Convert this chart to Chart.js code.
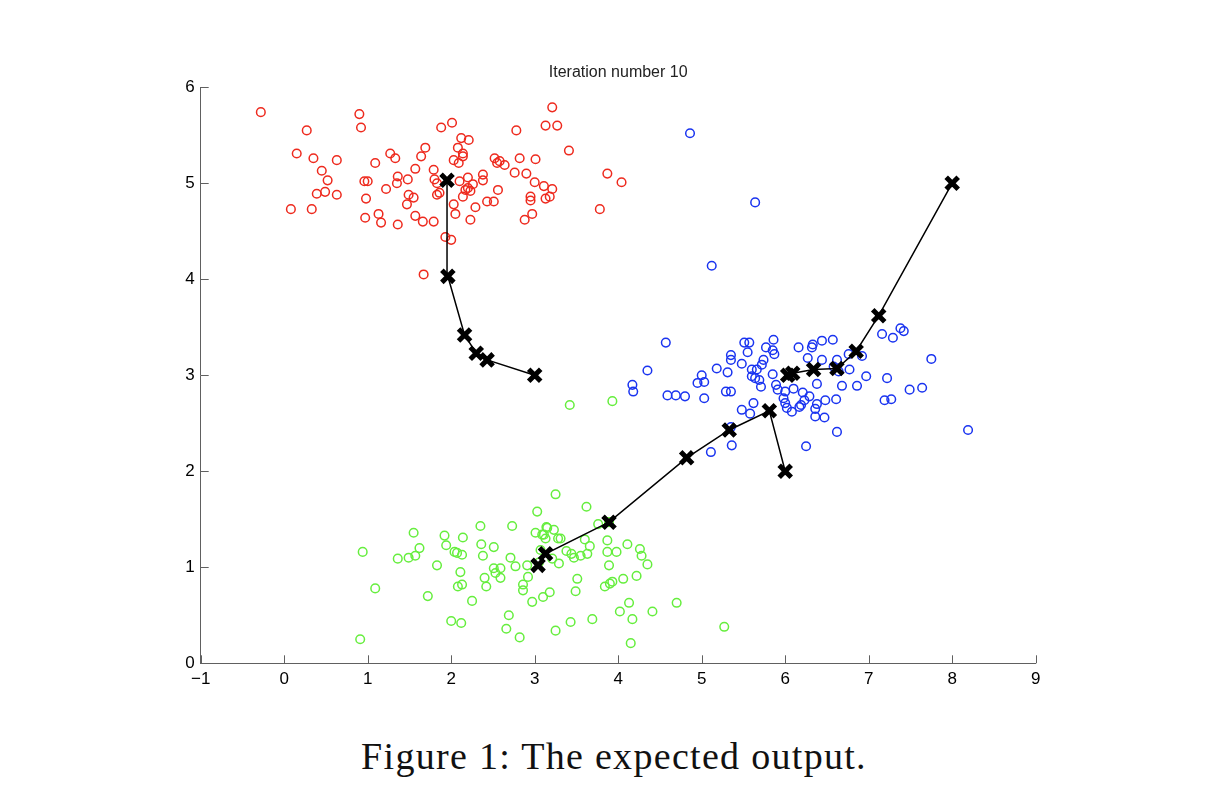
<!DOCTYPE html>
<html lang="en">
<head>
    <meta charset="UTF-8">
    <title>Iteration number 10</title>
    <script src="https://cdn.jsdelivr.net/npm/chart.js"></script>
    <style>
        body {
            margin: 0;
            background: #fff;
        }
        #wrap {
            position: relative;
            width: 1228px;
            height: 804px;
        }
        #chart {
            position: absolute;
            left: 0;
            top: 0;
        }
        .caption {
            position: absolute;
            left: 0;
            top: 737px;
            width: 1228px;
            text-align: center;
            font-family: "Liberation Serif", serif;
            font-size: 38px;
            letter-spacing: 1.3px;
            line-height: 1;
            color: #111;
        }
    </style>
</head>
<body>
<div id="wrap">
    <canvas id="chart" width="1228" height="720"></canvas>
    <div class="caption">Figure 1: The expected output.</div>
</div>

<script>
    // tick labels
    const xTicks = [-1, 0, 1, 2, 3, 4, 5, 6, 7, 8, 9];
    const yTicks = [0, 1, 2, 3, 4, 5, 6];

    // cluster 1 (red)
    const redPoints = [
        [-0.28, 5.74], [0.27, 5.55], [0.90, 5.72], [0.92, 5.58], [0.15, 5.31], [0.35, 5.26],
        [0.63, 5.24], [0.45, 5.13], [0.52, 5.03], [0.39, 4.89], [0.49, 4.91], [0.63, 4.88],
        [0.08, 4.73], [0.33, 4.73], [1.09, 5.21], [1.27, 5.31], [1.33, 5.26], [1.57, 5.15],
        [1.64, 5.28], [1.69, 5.37], [0.96, 5.02], [1.00, 5.02], [1.22, 4.94], [1.36, 5.07],
        [1.35, 5.00], [1.48, 5.04], [0.98, 4.84], [1.49, 4.88], [1.55, 4.85], [1.47, 4.78],
        [0.97, 4.64], [1.13, 4.68], [1.16, 4.59], [1.36, 4.57], [1.57, 4.66], [1.66, 4.60],
        [1.67, 4.05], [3.21, 5.79], [3.13, 5.60], [3.27, 5.60], [2.78, 5.55], [3.41, 5.34],
        [1.88, 5.58], [2.01, 5.63], [2.12, 5.47], [2.21, 5.45], [2.08, 5.37], [2.14, 5.31],
        [2.14, 5.28], [2.03, 5.24], [2.09, 5.21], [1.79, 5.14], [2.52, 5.26], [2.58, 5.23],
        [2.55, 5.21], [2.64, 5.19], [2.82, 5.26], [3.01, 5.25], [2.76, 5.11], [2.90, 5.10],
        [2.38, 5.09], [2.38, 5.03], [2.20, 5.06], [2.10, 5.02], [1.80, 5.04], [1.83, 5.00],
        [2.26, 4.99], [2.20, 4.95], [2.17, 4.93], [2.23, 4.92], [2.56, 4.93], [3.00, 5.01],
        [3.11, 4.97], [3.21, 4.94], [2.14, 4.86], [1.83, 4.88], [1.86, 4.90], [2.03, 4.78],
        [2.05, 4.68], [2.29, 4.75], [2.43, 4.81], [2.51, 4.81], [2.23, 4.62], [2.95, 4.86],
        [2.95, 4.82], [3.13, 4.84], [3.18, 4.86], [2.97, 4.68], [2.88, 4.62], [1.79, 4.60],
        [1.93, 4.44], [2.00, 4.41], [3.87, 5.10], [4.04, 5.01], [3.78, 4.73]
    ];

    // cluster 2 (blue)
    const bluePoints = [
        [4.57, 3.34], [4.35, 3.05], [4.17, 2.90], [4.18, 2.83], [4.59, 2.79], [4.69, 2.79],
        [4.80, 2.78], [5.03, 2.76], [4.95, 2.92], [5.03, 2.93], [5.00, 3.00], [5.18, 3.07],
        [5.31, 3.03], [5.29, 2.83], [5.35, 2.83], [5.35, 3.21], [5.35, 3.16], [5.48, 3.12],
        [5.51, 3.34], [5.57, 3.34], [5.55, 3.24], [5.77, 3.29], [5.86, 3.37], [5.85, 3.26],
        [5.87, 3.22], [6.16, 3.29], [5.74, 3.16], [5.72, 3.11], [5.66, 3.06], [5.60, 3.06],
        [5.60, 2.99], [5.64, 2.97], [5.69, 2.95], [5.71, 2.88], [5.85, 3.01], [5.89, 2.90],
        [5.91, 2.85], [6.00, 2.83], [6.10, 2.86], [6.21, 2.82], [5.98, 2.76], [6.00, 2.71],
        [6.02, 2.66], [6.08, 2.62], [6.19, 2.69], [6.23, 2.74], [5.62, 2.71], [5.48, 2.64],
        [5.58, 2.60], [5.35, 2.46], [5.36, 2.27], [5.11, 2.20], [6.25, 2.26], [7.16, 3.43],
        [7.29, 3.39], [7.38, 3.49], [7.42, 3.46], [7.75, 3.17], [7.22, 2.97], [7.49, 2.85],
        [7.64, 2.87], [7.19, 2.74], [7.27, 2.75], [8.19, 2.43], [6.97, 2.99], [6.86, 2.89],
        [6.68, 2.89], [6.77, 3.06], [6.92, 3.20], [6.76, 3.22], [6.62, 3.16], [6.57, 3.37],
        [6.44, 3.36], [6.33, 3.32], [6.32, 3.29], [6.27, 3.18], [6.44, 3.16], [6.58, 3.09],
        [6.64, 3.04], [6.38, 2.91], [6.29, 2.78], [6.48, 2.74], [6.61, 2.75], [6.38, 2.70],
        [6.36, 2.65], [6.17, 2.67], [6.36, 2.57], [6.47, 2.56], [6.62, 2.41], [4.86, 5.52],
        [5.64, 4.80], [5.12, 4.14]
    ];

    // cluster 3 (green)
    const greenPoints = [
        [0.94, 1.16], [1.09, 0.78], [0.91, 0.25], [1.55, 1.36], [1.62, 1.20], [1.57, 1.12],
        [1.49, 1.10], [1.36, 1.09], [1.72, 0.70], [1.83, 1.02], [1.92, 1.33], [1.94, 1.23],
        [2.14, 1.31], [2.04, 1.16], [2.07, 1.15], [2.13, 1.13], [2.11, 0.95], [2.08, 0.80],
        [2.13, 0.82], [2.25, 0.65], [2.00, 0.44], [2.12, 0.42], [2.35, 1.43], [2.36, 1.24],
        [2.51, 1.21], [2.38, 1.12], [2.51, 0.99], [2.59, 0.99], [2.53, 0.94], [2.59, 0.89],
        [2.40, 0.89], [2.42, 0.80], [2.73, 1.43], [2.71, 1.10], [2.77, 1.01], [3.03, 1.58],
        [3.01, 1.36], [3.14, 1.42], [3.09, 1.34], [2.91, 1.02], [2.92, 0.90], [2.86, 0.82],
        [2.86, 0.76], [2.97, 0.64], [3.10, 0.69], [2.69, 0.50], [2.66, 0.36], [2.82, 0.27],
        [3.07, 1.18], [3.25, 1.76], [3.62, 1.63], [3.76, 1.45], [3.15, 1.41], [3.23, 1.39],
        [3.11, 1.34], [3.13, 1.30], [3.28, 1.30], [3.31, 1.30], [3.60, 1.29], [3.66, 1.22],
        [3.38, 1.17], [3.44, 1.14], [3.47, 1.10], [3.55, 1.12], [3.63, 1.14], [3.21, 1.09],
        [3.29, 1.04], [3.87, 1.28], [3.87, 1.16], [3.98, 1.16], [4.11, 1.24], [4.26, 1.19],
        [4.28, 1.12], [4.35, 1.03], [3.89, 1.02], [4.22, 0.91], [4.06, 0.88], [3.93, 0.85],
        [3.90, 0.83], [3.84, 0.80], [3.51, 0.88], [3.49, 0.75], [3.18, 0.74], [4.13, 0.63],
        [4.02, 0.54], [4.17, 0.46], [4.70, 0.63], [4.41, 0.54], [3.69, 0.46], [3.43, 0.43],
        [3.25, 0.34], [4.15, 0.21], [5.27, 0.38], [3.42, 2.69], [3.93, 2.73], [3.89, 1.47],
        [3.05, 1.05]
    ];

    // centroid history, iteration 0 .. converged
    const centroid1X = [3.00, 2.43, 2.30, 2.16, 1.96, 1.95];
    const centroid1Y = [3.00, 3.16, 3.23, 3.42, 4.03, 5.03];
    const centroid2X = [8.00, 7.12, 6.85, 6.62, 6.34, 6.09, 6.03];
    const centroid2Y = [5.00, 3.62, 3.25, 3.07, 3.06, 3.02, 3.00];
    const centroid3X = [6.00, 5.81, 5.33, 4.82, 3.89, 3.13, 3.04];
    const centroid3Y = [2.00, 2.63, 2.43, 2.14, 1.47, 1.14, 1.02];

    const axisColor = '#606060';
    const tickFont = { family: 'Liberation Sans', size: 17 };

    const toXY = pts => pts.map(p => ({ x: p[0], y: p[1] }));
    const zipXY = (xs, ys) => xs.map((x, i) => ({ x: x, y: ys[i] }));

    function clusterSet(pts, color) {
        return {
            type: 'scatter',
            data: toXY(pts),
            pointStyle: 'circle',
            pointRadius: 4.3,
            pointBorderWidth: 1.5,
            pointBackgroundColor: 'rgba(0,0,0,0)',
            pointBorderColor: color,
            order: 2
        };
    }

    function centroidSet(xs, ys) {
        return {
            type: 'line',
            data: zipXY(xs, ys),
            borderColor: '#000',
            borderWidth: 1.5,
            tension: 0,
            fill: false,
            pointStyle: 'crossRot',
            pointRadius: 8.5,
            pointBorderWidth: 5,
            pointBorderColor: '#000',
            pointBackgroundColor: '#000',
            order: 0
        };
    }

    // MATLAB style: tick marks pointing into the plot
    const inwardTicks = {
        id: 'inwardTicks',
        beforeDatasetsDraw(chart) {
            const { ctx, chartArea, scales } = chart;
            ctx.save();
            ctx.strokeStyle = axisColor;
            ctx.lineWidth = 1;
            ctx.beginPath();
            scales.x.ticks.forEach(t => {
                const px = Math.round(scales.x.getPixelForValue(t.value)) + 0.5;
                ctx.moveTo(px, chartArea.bottom);
                ctx.lineTo(px, chartArea.bottom - 8);
            });
            scales.y.ticks.forEach(t => {
                const py = Math.round(scales.y.getPixelForValue(t.value)) + 0.5;
                ctx.moveTo(chartArea.left, py);
                ctx.lineTo(chartArea.left + 8, py);
            });
            ctx.stroke();
            ctx.restore();
        }
    };

    const ctx = document.getElementById('chart').getContext('2d');
    new Chart(ctx, {
        data: {
            datasets: [
                centroidSet(centroid1X, centroid1Y),
                centroidSet(centroid2X, centroid2Y),
                centroidSet(centroid3X, centroid3Y),
                clusterSet(redPoints, '#ee2a1e'),
                clusterSet(bluePoints, '#1a34f0'),
                clusterSet(greenPoints, '#66ee3e')
            ]
        },
        options: {
            responsive: false,
            animation: false,
            devicePixelRatio: 1,
            layout: {
                padding: { left: 0, right: 192.3, top: 0, bottom: 0 }
            },
            plugins: {
                legend: { display: false },
                tooltip: { enabled: false },
                title: {
                    display: true,
                    fullSize: false,
                    text: 'Iteration number 10',
                    color: '#222',
                    font: { family: 'Liberation Sans', size: 16, weight: 'normal' },
                    padding: { top: 63, bottom: 5 }
                }
            },
            scales: {
                x: {
                    type: 'linear',
                    min: -1,
                    max: 9,
                    afterBuildTicks: s => { s.ticks = xTicks.map(v => ({ value: v })); },
                    afterFit: s => { s.height = 56.7; },
                    grid: { display: false, drawTicks: false },
                    border: { display: true, color: axisColor, width: 1 },
                    ticks: {
                        color: '#000',
                        font: tickFont,
                        padding: 6,
                        maxRotation: 0,
                        callback: v => String(v).replace('-', '\u2212')
                    }
                },
                y: {
                    type: 'linear',
                    min: 0,
                    max: 6,
                    afterBuildTicks: s => { s.ticks = yTicks.map(v => ({ value: v })); },
                    afterFit: s => { s.width = 200.7; },
                    grid: { display: false, drawTicks: false },
                    border: { display: true, color: axisColor, width: 1 },
                    ticks: {
                        color: '#000',
                        font: tickFont,
                        padding: 6
                    }
                }
            }
        },
        plugins: [inwardTicks]
    });
</script>
</body>
</html>
